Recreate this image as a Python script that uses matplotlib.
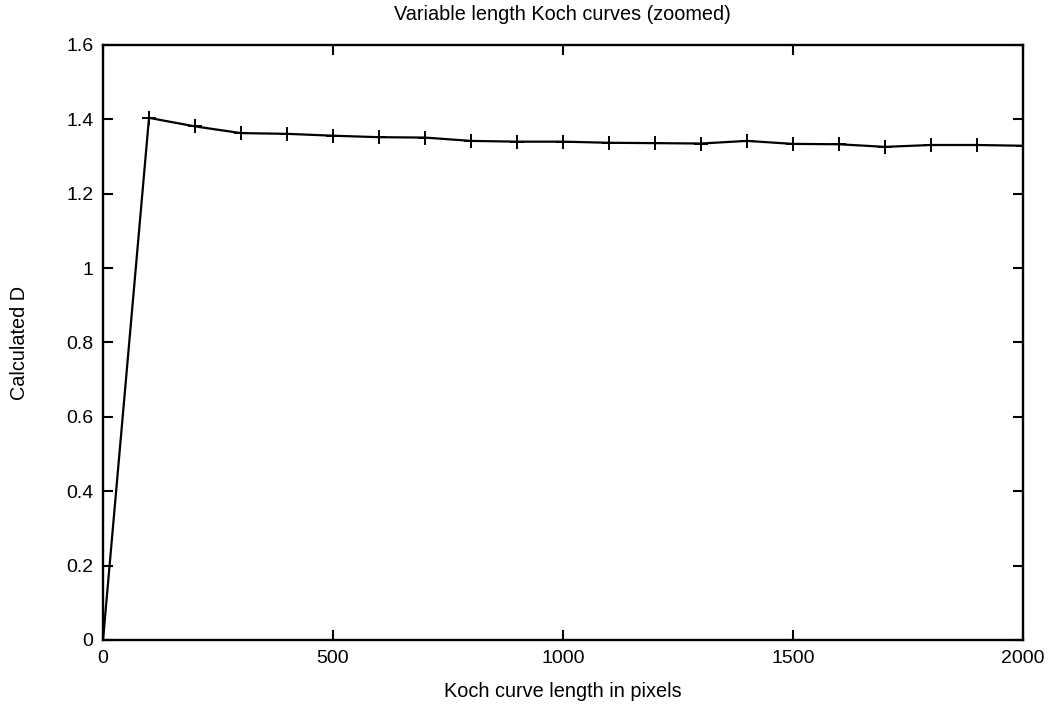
import matplotlib
matplotlib.use("Agg")
import matplotlib.pyplot as plt

plt.rcParams['font.family'] = ['Liberation Sans', 'DejaVu Sans']

# Koch curve length (pixels) and calculated fractal dimension
lengths = [0, 100, 200, 300, 400, 500, 600, 700, 800, 900, 1000,
           1100, 1200, 1300, 1400, 1500, 1600, 1700, 1800, 1900, 2000]
dimension = [0.0, 1.404, 1.381, 1.363, 1.361, 1.356, 1.352, 1.351, 1.342, 1.340, 1.340,
             1.337, 1.336, 1.335, 1.342, 1.334, 1.333, 1.326, 1.331, 1.331, 1.329]

x_ticks = [0, 500, 1000, 1500, 2000]
y_ticks = [0, 0.2, 0.4, 0.6, 0.8, 1.0, 1.2, 1.4, 1.6]
y_labels = ['0', '0.2', '0.4', '0.6', '0.8', '1', '1.2', '1.4', '1.6']

fig = plt.figure(figsize=(10.48, 7.07), dpi=100)
ax = fig.add_axes([0.0983, 0.0948, 0.8777, 0.8416])

ax.plot(lengths, dimension, color='black', linewidth=1.6,
        marker='+', markersize=10, markeredgewidth=1.4)

ax.set_xlim(0, 2000)
ax.set_ylim(0, 1.6)
ax.set_xticks(x_ticks)
ax.set_xticklabels([str(t) for t in x_ticks])
ax.set_yticks(y_ticks)
ax.set_yticklabels(y_labels)

ax.tick_params(direction='in', length=7, width=1.5, labelsize=14,
               top=True, right=True, pad=7)
for s in ax.spines.values():
    s.set_linewidth(1.7)

ax.set_title('Variable length Koch curves (zoomed)', fontsize=14.3, pad=18)
ax.set_xlabel('Koch curve length in pixels', fontsize=14.3, labelpad=11)
ax.set_ylabel('Calculated D', fontsize=14.3, labelpad=27)

fig.savefig('out.png', dpi=100)
